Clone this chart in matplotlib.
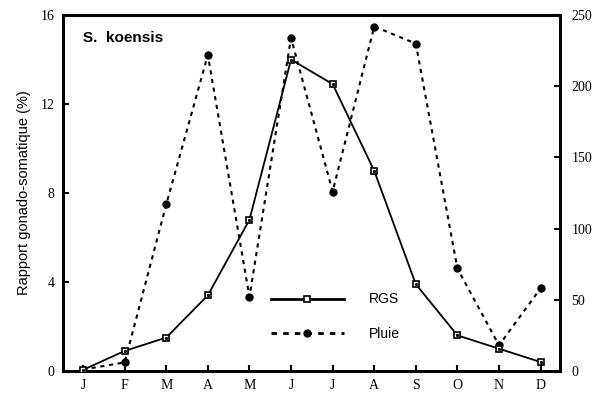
import numpy as np
import matplotlib
matplotlib.use("Agg")
import matplotlib.pyplot as plt

# monthly values, S. koensis
mois = ["J", "F", "M", "A", "M", "J", "J", "A", "S", "O", "N", "D"]
rgs = [0.05, 0.9, 1.5, 3.4, 6.8, 14.0, 12.9, 9.0, 3.9, 1.6, 1.0, 0.4]
pluie = [1, 6, 117, 222, 52, 234, 126, 242, 230, 72, 18, 58]

gauche_ticks = [0, 4, 8, 12, 16]
droite_ticks = [0, 50, 100, 150, 200, 250]

fig = plt.figure(figsize=(6.01, 3.98), dpi=100)
ax = fig.add_axes([0.105, 0.068, 0.827, 0.894])
ax2 = ax.twinx()
ax.set_zorder(ax2.get_zorder() + 1)
ax.patch.set_visible(False)

x = np.arange(len(mois))

l1, = ax.plot(x, rgs, '-', color='black', linewidth=1.3, marker='s',
              markersize=5, markerfacecolor='white', markeredgecolor='black',
              markeredgewidth=1.2, zorder=3)
# petit point au centre des carrés
ax.plot(x, rgs, linestyle='none', marker='o', markersize=1.3,
        color='black', zorder=4)
l2, = ax2.plot(x, pluie, color='black', linewidth=1.5, linestyle=(0, (2, 2.2)),
               marker='o', markersize=5, markerfacecolor='black', zorder=2)

ax.set_xlim(-0.48, 11.47)
ax.set_ylim(0, 16)
ax2.set_ylim(0, 250)

ax.set_xticks(x)
ax.set_xticklabels(mois, family='Liberation Serif', fontsize=10)
ax.set_yticks(gauche_ticks)
ax.set_yticklabels([str(v) for v in gauche_ticks], family='Liberation Serif', fontsize=10)
ax2.set_yticks(droite_ticks)
ax2.set_yticklabels([str(v) for v in droite_ticks], family='Liberation Serif', fontsize=10)

ax.tick_params(direction='in', length=4, width=1.5, pad=6)
ax2.tick_params(direction='in', length=4, width=1.5, pad=8)

for a in (ax, ax2):
    for sp in a.spines.values():
        sp.set_linewidth(2)

ax.set_ylabel("Rapport gonado-somatique (%)", family='Liberation Sans', fontsize=10.5, labelpad=7)
ax.text(0.04, 0.935, "S.  koensis", transform=ax.transAxes, fontsize=11,
        fontweight='bold', family='Liberation Sans', va='center')

# légende sans cadre
leg = ax.legend([l1, l2], ["RGS", "Pluie"], loc='upper left',
                bbox_to_anchor=(0.405, 0.24), frameon=False, handlelength=5.2,
                handletextpad=1.8, labelspacing=1.5, borderpad=0,
                prop={'family': 'Liberation Sans', 'size': 10})
for h in leg.get_lines():
    h.set_linewidth(2)

fig.savefig("out.png", dpi=100)
